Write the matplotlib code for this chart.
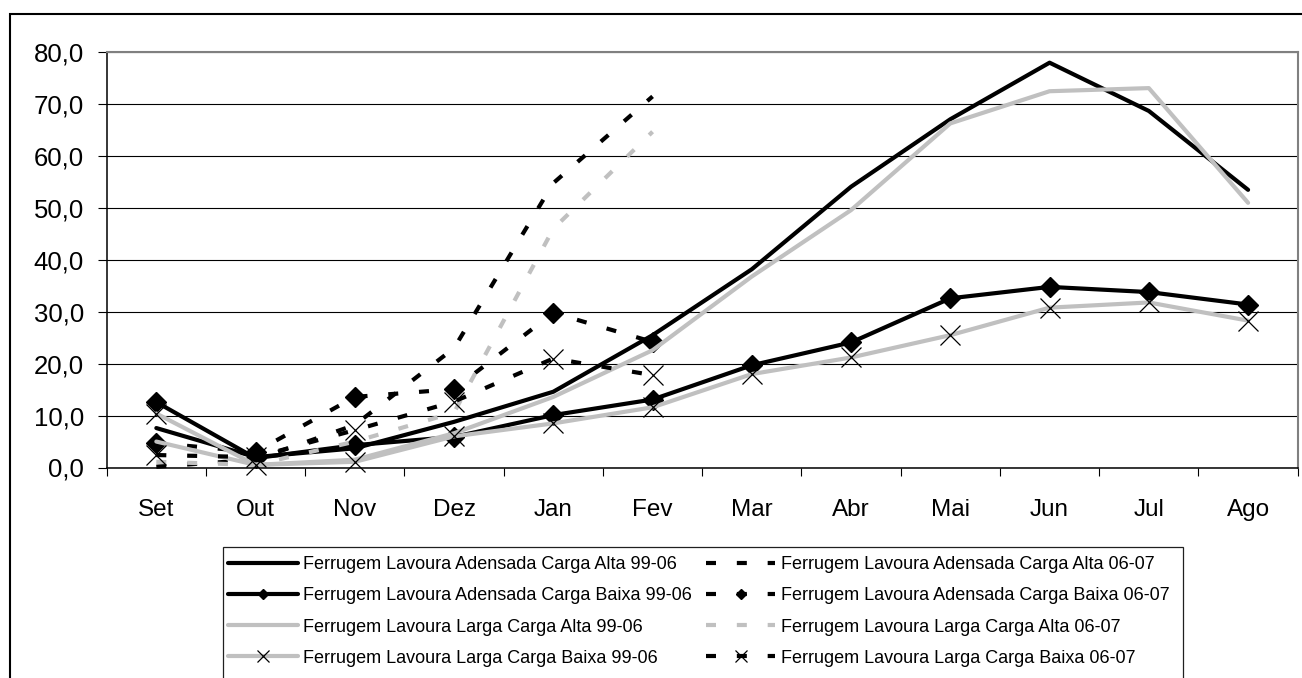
import matplotlib
matplotlib.use('Agg')
import matplotlib.pyplot as plt
import numpy as np
from matplotlib.patches import Rectangle

plt.rcParams['font.family'] = ['Liberation Sans', 'DejaVu Sans']
plt.rcParams['lines.scale_dashes'] = False

# ---------------- data ----------------
months = ['Set', 'Out', 'Nov', 'Dez', 'Jan', 'Fev', 'Mar', 'Abr', 'Mai', 'Jun', 'Jul', 'Ago']

aden_alta_9906 = [7.6, 2.0, 3.7, 8.8, 14.6, 25.5, 38.2, 54.1, 67.1, 78.0, 68.7, 53.5]
aden_baixa_9906 = [12.6, 1.8, 4.3, 5.9, 10.1, 13.1, 19.7, 24.1, 32.6, 34.8, 33.8, 31.4]
larga_alta_9906 = [5.0, 0.5, 1.5, 6.6, 13.6, 22.6, 36.8, 49.6, 66.3, 72.5, 73.1, 51.0]
larga_baixa_9906 = [10.4, 0.5, 1.1, 6.0, 8.5, 11.6, 18.0, 21.2, 25.5, 30.8, 31.8, 28.3]

months_0607 = ['Set', 'Out', 'Nov', 'Dez', 'Jan', 'Fev']
aden_alta_0607 = [0.15, 1.5, 8.2, 23.0, 54.8, 71.5]
aden_baixa_0607 = [4.7, 3.0, 13.6, 15.1, 29.8, 24.2]
larga_alta_0607 = [1.1, 0.5, 5.0, 10.6, 46.0, 64.7]
larga_baixa_0607 = [2.4, 2.0, 7.2, 12.7, 21.0, 17.8]

labels = [
    'Ferrugem Lavoura Adensada Carga Alta 99-06',
    'Ferrugem Lavoura Adensada Carga Alta 06-07',
    'Ferrugem Lavoura Adensada Carga Baixa 99-06',
    'Ferrugem Lavoura Adensada Carga Baixa 06-07',
    'Ferrugem Lavoura Larga Carga Alta 99-06',
    'Ferrugem Lavoura Larga Carga Alta 06-07',
    'Ferrugem Lavoura Larga Carga Baixa 99-06',
    'Ferrugem Lavoura Larga Carga Baixa 06-07',
]

y_ticks = [0, 10, 20, 30, 40, 50, 60, 70, 80]
y_tick_labels = ['0,0', '10,0', '20,0', '30,0', '40,0', '50,0', '60,0', '70,0', '80,0']

# ---------------- figure ----------------
W, H = 1302, 678
fig = plt.figure(figsize=(W / 100, H / 100), dpi=100)

# outer chart border
fig.patches.append(Rectangle((10 / W, -0.2), 1.3, 1 - 14 / H + 0.2,
                             transform=fig.transFigure, fill=False,
                             edgecolor='black', linewidth=1.5))
# legend frame (runs off the bottom of the picture)
fig.patches.append(Rectangle((223 / W, -0.2), (1183 - 223) / W, 1 - 547 / H + 0.2,
                             transform=fig.transFigure, fill=False,
                             edgecolor='#202020', linewidth=0.9))

left, right, top, bottom = 106.7, 1297.7, 52.3, 467.5
ax = fig.add_axes([left / W, 1 - bottom / H, (right - left) / W, (bottom - top) / H])

x = np.arange(len(months))
x6 = np.arange(len(months_0607))

BLACK = '#000000'
GRAY = '#C0C0C0'
LW = 3.0
DASH = (7.2, 15.0)

common = dict(clip_on=False, solid_capstyle='round', solid_joinstyle='round')

h1, = ax.plot(x, aden_alta_9906, color=BLACK, lw=LW, **common)
h2, = ax.plot(x6, aden_alta_0607, color=BLACK, lw=LW, dashes=DASH, **common)
h3, = ax.plot(x, aden_baixa_9906, color=BLACK, lw=LW, marker='D', ms=10,
              mfc=BLACK, mec=BLACK, **common)
h4, = ax.plot(x6, aden_baixa_0607, color=BLACK, lw=LW, dashes=DASH, marker='D', ms=10,
              mfc=BLACK, mec=BLACK, **common)
h5, = ax.plot(x, larga_alta_9906, color=GRAY, lw=LW, **common)
h6, = ax.plot(x6, larga_alta_0607, color=GRAY, lw=LW, dashes=DASH, **common)
h7, = ax.plot(x, larga_baixa_9906, color=GRAY, lw=LW, marker='x', ms=15,
              mec=BLACK, mew=0.9, **common)
h8, = ax.plot(x6, larga_baixa_0607, color=BLACK, lw=LW, dashes=DASH, marker='x', ms=15,
              mec=BLACK, mew=0.9, **common)

ax.set_xlim(-0.5, len(months) - 0.5)
ax.set_ylim(0, 80)

# gridlines
ax.set_axisbelow(True)
ax.yaxis.grid(True, color='black', linewidth=0.8)

# spines
for s in ['left', 'bottom']:
    ax.spines[s].set_color('black')
    ax.spines[s].set_linewidth(1.1)
for s in ['top', 'right']:
    ax.spines[s].set_color('#808080')
    ax.spines[s].set_linewidth(1.5)

# ticks
ax.set_xticks(x)
ax.set_xticklabels(months, fontsize=17.5)
ax.set_xticks(np.arange(-0.5, len(months)), minor=True)
ax.tick_params(axis='x', which='major', length=0, pad=23)
ax.tick_params(axis='x', which='minor', length=5.8, width=0.8, direction='out', color='black')
ax.set_yticks(y_ticks)
ax.set_yticklabels(y_tick_labels, fontsize=18.5)
ax.tick_params(axis='y', which='major', length=6.5, width=0.8, direction='out', pad=10,
               color='black')

# legend (two columns: 99-06 left, 06-07 right)
handles = [h1, h3, h5, h7, h2, h4, h6, h8]
leg_labels = [labels[0], labels[2], labels[4], labels[6],
              labels[1], labels[3], labels[5], labels[7]]
leg = fig.legend(handles, leg_labels, ncol=2, loc='upper left',
                 bbox_to_anchor=(223 / W, 1 - 551 / H), bbox_transform=fig.transFigure,
                 fontsize=13, frameon=False,
                 handlelength=3.85, handletextpad=0.3, columnspacing=0.75,
                 labelspacing=0.78, borderpad=0.3, markerscale=0.55, borderaxespad=0)

fig.savefig('out.png', dpi=100)
